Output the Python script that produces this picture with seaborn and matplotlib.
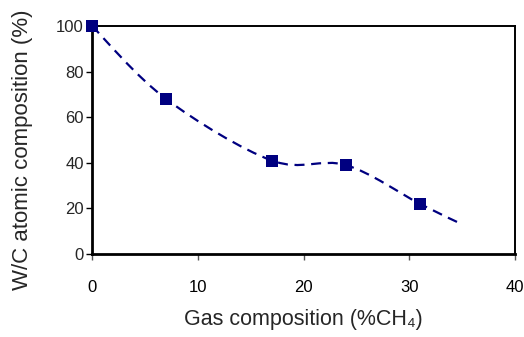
import matplotlib
matplotlib.use("Agg")
import matplotlib.pyplot as plt
from matplotlib.path import Path
import matplotlib.patches as mpatches
import numpy as np
import pandas as pd
import seaborn as sns

# measured points (marker series)
gas_ch4 = [0, 7, 17, 24, 31]
wc_comp = [100, 68, 41, 39, 22]
# smoothed dashed line runs on to 35 %CH4
line_x = [0, 7, 17, 24, 31, 35]
line_y = [100, 68, 41, 39, 22, 13]

navy = "#000080"

sns.set_theme(style="white")
plt.rcParams["font.family"] = ["Liberation Sans", "DejaVu Sans"]

fig = plt.figure(figsize=(5.24, 3.37), dpi=100)
ax = fig.add_axes([0.1756, 0.2463, 0.8074, 0.6765])

# Excel style smoothed line: cubic bezier segments (catmull-rom tangents)
pts = np.column_stack([line_x, line_y]).astype(float)
verts = [tuple(pts[0])]
codes = [Path.MOVETO]
n = len(pts)
for i in range(n - 1):
    p0 = pts[i - 1] if i > 0 else pts[i]
    p1 = pts[i]
    p2 = pts[i + 1]
    p3 = pts[i + 2] if i + 2 < n else pts[i + 1]
    c1 = p1 + (p2 - p0) / 6.0
    c2 = p2 - (p3 - p1) / 6.0
    verts += [tuple(c1), tuple(c2), tuple(p2)]
    codes += [Path.CURVE4] * 3
curve = mpatches.PathPatch(Path(verts, codes), fill=False, edgecolor=navy,
                           lw=1.6, linestyle=(0, (4.5, 3)), zorder=2)
ax.add_patch(curve)

df = pd.DataFrame({"x": gas_ch4, "y": wc_comp})
sns.scatterplot(data=df, x="x", y="y", marker="s", s=70, color=navy,
                edgecolor=navy, linewidth=0, ax=ax, zorder=3, clip_on=False)

ax.set_xlim(0, 40)
ax.set_ylim(0, 100)
ax.set_xticks([0, 10, 20, 30, 40])
ax.set_yticks([0, 20, 40, 60, 80, 100])

for side in ["left", "bottom"]:
    ax.spines[side].set_linewidth(2.0)
    ax.spines[side].set_color("black")
for side in ["top", "right"]:
    ax.spines[side].set_linewidth(1.4)
    ax.spines[side].set_color("black")

ax.tick_params(axis="x", direction="out", length=4, width=1,
               pad=15, labelsize=12, colors="black", bottom=True)
ax.tick_params(axis="x", color="#555555")
ax.tick_params(axis="y", direction="out", length=4, width=1, color="black",
               pad=2, labelsize=12, left=True)

ax.set_xlabel("Gas composition (%CH\u2084)", fontsize=15.5, labelpad=10)
ax.set_ylabel("W/C atomic composition (%)", fontsize=16)
ax.yaxis.set_label_coords(-0.139, 0.456)
ax.grid(False)

fig.savefig("out.png", dpi=100)
